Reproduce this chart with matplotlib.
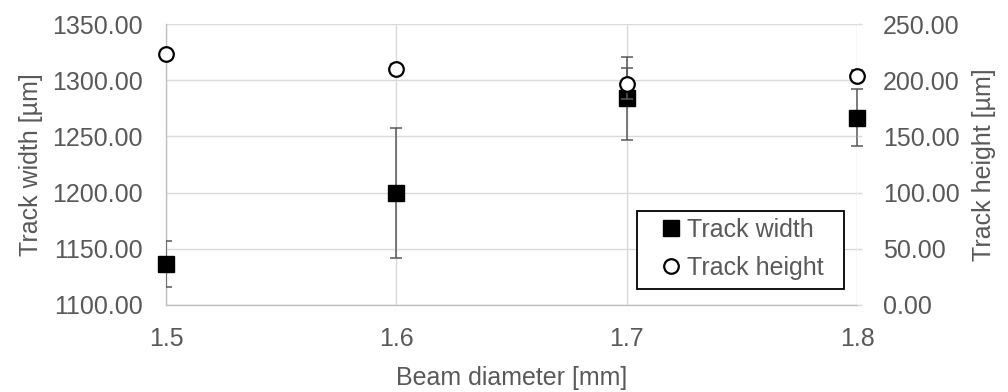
import matplotlib
matplotlib.use("Agg")
import matplotlib.pyplot as plt
from matplotlib.lines import Line2D
from matplotlib.patches import Rectangle
from matplotlib.ticker import FormatStrFormatter
from matplotlib.transforms import Bbox, TransformedBbox

# Beam diameter sweep [mm]
beam_diameter = [1.5, 1.6, 1.7, 1.8]
# Track width [um] with standard deviation
track_width = [1136.3, 1199.6, 1283.8, 1266.8]
track_width_err = [20.6, 57.5, 37.0, 25.1]
# Track height [um] with standard deviation
track_height = [223.1, 210.2, 196.8, 204.0]
track_height_err = [5.0, 4.0, 13.8, 5.0]

width_ticks = [1100, 1150, 1200, 1250, 1300, 1350]
height_ticks = [0, 50, 100, 150, 200, 250]

TXT = "#595959"
GRID = "#d9d9d9"

plt.rcParams["font.family"] = ["Liberation Sans", "DejaVu Sans"]
plt.rcParams["font.size"] = 18

fig = plt.figure(figsize=(10.08, 3.92), dpi=100)
ax = fig.add_axes([166 / 1008, 87 / 392, 691 / 1008, 281 / 392])
ax2 = ax.twinx()


def errbars(axis, y, yerr):
    eb = axis.errorbar(beam_diameter, y, yerr=yerr, fmt="none", ecolor=TXT,
                       elinewidth=1.1, capsize=4.5, capthick=1.1, zorder=3)
    # clip on the left edge only, like the spreadsheet output
    clip = TransformedBbox(Bbox([[0, -1], [2, 2]]), axis.transAxes)
    for art in list(eb.lines[1]) + list(eb.lines[2]):
        art.set_clip_box(clip)
        art.set_clip_on(True)
    return eb


errbars(ax, track_width, track_width_err)
ax.plot(beam_diameter, track_width, ls="none", marker="s", ms=11.5,
        mfc="black", mec="black", clip_on=False, zorder=4)

errbars(ax2, track_height, track_height_err)
ax2.plot(beam_diameter, track_height, ls="none", marker="o", ms=10.5,
         mfc="white", mec="black", mew=1.6, clip_on=False, zorder=4)

ax.set_xlim(1.5, 1.8)
ax.set_xticks(beam_diameter)
ax.xaxis.set_major_formatter(FormatStrFormatter("%.1f"))
ax.set_ylim(1100, 1350)
ax.set_yticks(width_ticks)
ax.yaxis.set_major_formatter(FormatStrFormatter("%.2f"))
ax2.set_ylim(0, 250)
ax2.set_yticks(height_ticks)
ax2.yaxis.set_major_formatter(FormatStrFormatter("%.2f"))

ax.grid(True, color=GRID, lw=1.0, zorder=0)
ax.set_axisbelow(True)
for s in ["top", "right"]:
    ax.spines[s].set_visible(False)
for s in ["left", "bottom"]:
    ax.spines[s].set_color("#bfbfbf")
    ax.spines[s].set_linewidth(1.0)
for s in ax2.spines.values():
    s.set_visible(False)

ax.tick_params(axis="x", length=0, pad=16, colors=TXT)
ax.tick_params(axis="y", length=0, pad=17, colors=TXT)
ax2.tick_params(axis="y", length=3.6, width=1.0, color=GRID, pad=15,
                labelcolor=TXT)

ax.set_xlabel("Beam diameter [mm]", color=TXT, labelpad=11)
ax.set_ylabel("Track width [µm]", color=TXT, labelpad=6)
ax2.set_ylabel("Track height [µm]", color=TXT, labelpad=9)

# legend frame is wider than its contents
ax2.add_patch(Rectangle((0.6816, 0.0569), 0.2996, 0.2776, transform=ax2.transAxes,
                        facecolor="white", edgecolor="black", lw=1.3,
                        clip_on=False, zorder=5))
handles = [
    Line2D([], [], ls="none", marker="s", ms=11.5, mfc="black", mec="black"),
    Line2D([], [], ls="none", marker="o", ms=10.5, mfc="white", mec="black", mew=1.6),
]
leg = ax2.legend(handles, ["Track width", "Track height"], loc="center left",
                 bbox_to_anchor=(0.716, 0.199), frameon=False, borderpad=0,
                 borderaxespad=0, handlelength=0.8, handletextpad=0.25,
                 labelspacing=0.55, labelcolor=TXT)
leg.set_zorder(6)

fig.savefig("out.png", dpi=100)
